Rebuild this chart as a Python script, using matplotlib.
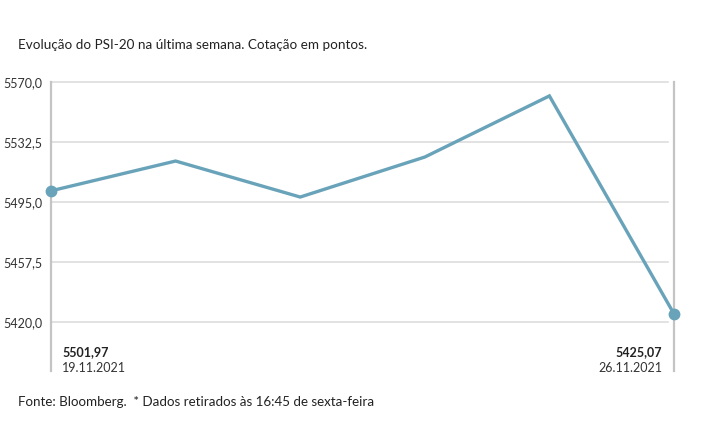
import numpy as np
import matplotlib.pyplot as plt

plt.rcParams['font.family'] = ['Lato', 'DejaVu Sans']

# dados (cotação diária PSI-20)
dias = np.arange(6)
valores = [5501.97, 5520.6, 5498.1, 5523.1, 5561.3, 5425.07]
yticks = [5420.0, 5457.5, 5495.0, 5532.5, 5570.0]
ytick_labels = ['5420,0', '5457,5', '5495,0', '5532,5', '5570,0']
primeiro = ('5501,97', '19.11.2021')
ultimo = ('5425,07', '26.11.2021')

cor = '#69a3ba'
cinza = '#dadada'

fig = plt.figure(figsize=(7.15, 4.45), dpi=100)
ax = fig.add_axes([51/715, 1-322/445, (674-51)/715, 240/445])

ax.set_xlim(0, 5)
ax.set_ylim(5420, 5570)

for v in yticks:
    ax.plot([0, 4.95], [v, v], color=cinza, lw=1.1, zorder=1, clip_on=False)

# linhas verticais nas pontas
for x in [0, 1]:
    ax.plot([x, x], [1, -0.205], transform=ax.transAxes, color='#c4c4c4',
            lw=1.6, clip_on=False, zorder=1)

ax.plot(dias, valores, color=cor, lw=2.4, zorder=3, clip_on=False,
        solid_joinstyle='miter')
ax.plot([dias[0], dias[-1]], [valores[0], valores[-1]], 'o', color=cor,
        ms=7.5, zorder=4, clip_on=False)

for s in ax.spines.values():
    s.set_visible(False)
ax.set_xticks([])
ax.set_yticks(yticks)
ax.set_yticklabels(ytick_labels, fontsize=9, color='#333333')
ax.tick_params(axis='y', length=0, pad=6)

fig.text(62/715, 1-352/445, primeiro[0], fontsize=9, fontweight='bold',
         color='#222222', va='center')
fig.text(62/715, 1-368/445, primeiro[1], fontsize=9, color='#333333', va='center')
fig.text(662/715, 1-352/445, ultimo[0], fontsize=9, fontweight='bold',
         color='#222222', va='center', ha='right')
fig.text(662/715, 1-368/445, ultimo[1], fontsize=9, color='#333333',
         va='center', ha='right')

fig.text(18/715, 1-45/445, 'Evolução do PSI-20 na última semana. Cotação em pontos.',
         fontsize=9.7, color='#222222', va='center')
fig.text(18/715, 1-402/445,
         'Fonte: Bloomberg.  * Dados retirados às 16:45 de sexta-feira',
         fontsize=9.6, color='#222222', va='center')

fig.savefig('out.png', dpi=100, facecolor='white')
